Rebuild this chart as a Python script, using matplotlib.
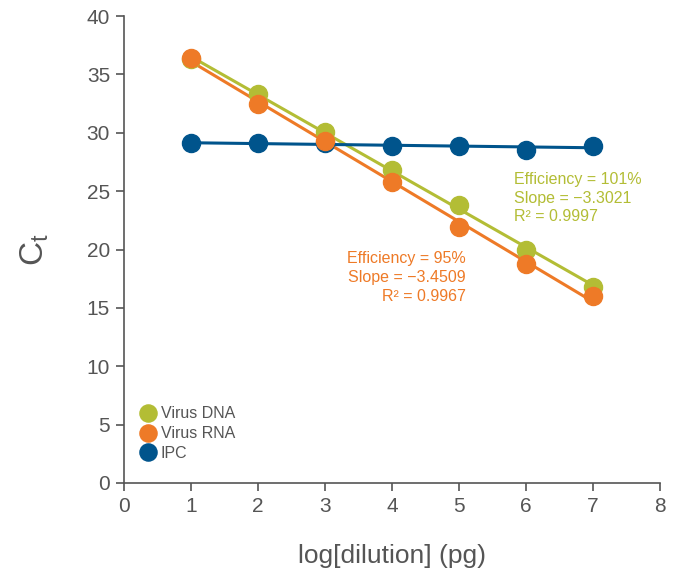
import numpy as np
import matplotlib.pyplot as plt

plt.rcParams['font.family'] = ['Liberation Sans', 'DejaVu Sans']

# data
dilution = [1, 2, 3, 4, 5, 6, 7]
ct_dna = [36.3, 33.3, 30.1, 26.8, 23.8, 20.0, 16.8]
ct_rna = [36.4, 32.5, 29.3, 25.8, 21.9, 18.8, 16.0]
ct_ipc = [29.1, 29.1, 29.1, 28.9, 28.9, 28.5, 28.9]

series = [
    ('Virus DNA', ct_dna, '#b3bd35'),
    ('Virus RNA', ct_rna, '#ee7a27'),
    ('IPC', ct_ipc, '#00548c'),
]

grey = '#555555'

fig = plt.figure(figsize=(6.83, 5.82), dpi=100)
ax = fig.add_axes([124 / 683, 99 / 582, 536 / 683, 467 / 582])

x = np.array(dilution, dtype=float)
xfit = np.array([1, 7], dtype=float)

# regression lines first, markers on top
for name, y, col in series:
    k, b = np.polyfit(x, y, 1)
    ax.plot(xfit, k * xfit + b, color=col, lw=2.2, zorder=2)

handles = {}
for name, y, col in [series[0], series[2], series[1]]:
    h, = ax.plot(x, y, 'o', ms=13, color=col, label=name, zorder=3)
    handles[name] = h

ax.legend([handles[n] for n, _, _ in series], [n for n, _, _ in series],
          loc='lower left', bbox_to_anchor=(0.0, 0.02), frameon=False,
          fontsize=11.5, handletextpad=0.1, labelspacing=0.3,
          borderpad=0.3, handlelength=1.4, labelcolor=grey, markerscale=0.95)

ax.text(5.82, 24.4, 'Efficiency = 101%\nSlope = \u22123.3021\nR\u00b2 = 0.9997',
        color='#b3bd35', fontsize=11.5, ha='left', va='center', linespacing=1.3)
ax.text(5.1, 17.6, 'Efficiency = 95%\nSlope = \u22123.4509\nR\u00b2 = 0.9967',
        color='#ee7a27', fontsize=11.5, ha='right', va='center', multialignment='right',
        linespacing=1.3)

ax.set_xlim(0, 8)
ax.set_ylim(0, 40)
ax.set_xticks(range(0, 9))
ax.set_yticks(range(0, 41, 5))
for s in ['top', 'right']:
    ax.spines[s].set_visible(False)
for s in ['left', 'bottom']:
    ax.spines[s].set_color(grey)
    ax.spines[s].set_linewidth(1.2)
ax.tick_params(colors=grey, labelsize=15, length=6, width=1.2, pad=4)

ax.set_xlabel('log[dilution] (pg)', fontsize=19, color=grey, labelpad=20)
ax.set_ylabel('C$_{\\mathregular{t}}$', fontsize=24, color=grey, labelpad=26)

fig.savefig('out.png', dpi=100)
